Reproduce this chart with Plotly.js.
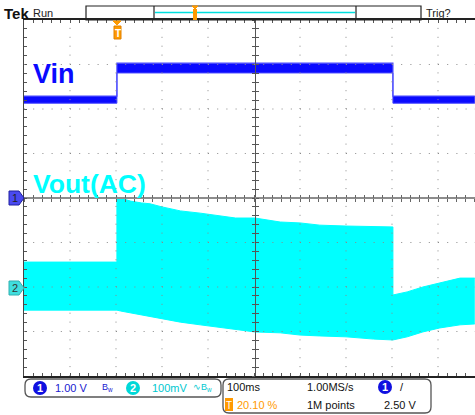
<!DOCTYPE html>
<html><head><meta charset="utf-8">
<script src="https://cdn.plot.ly/plotly-3.0.1.min.js"></script>
<style>html,body{margin:0;padding:0;background:#fff;}#chart{width:475px;height:415px;}</style>
</head><body><div id="chart"></div>
<script>
// ---- data ----
const vinTimeMs  = [0, 202, 202, 802, 802, 980];
const vinUpperV  = [2.29, 2.29, 3.03, 3.03, 2.29, 2.29];
const vinLowerV  = [2.13, 2.13, 2.81, 2.81, 2.13, 2.13];

const voutTimeMs  = [0, 202, 202, 210, 232, 255, 274, 300, 340, 383, 420, 460, 502, 557, 600, 643, 700, 760, 802, 802, 833, 867, 904, 948, 980];
const voutUpperMv = [56, 56, 202, 200, 193, 189, 187, 180, 171, 166, 160, 155, 155, 146, 144, 139, 137, 136, 135, -18, -11, 0, 9, 20, 20];
const voutLowerMv = [-52, -52, -52, -54, -58, -63, -67, -72, -79, -85, -90, -97, -101, -103, -108, -110, -112, -117, -119, -119, -112, -101, -92, -85, -83];

const ch1VoltsPerDiv = 1.0, ch1OffsetDiv = 0;
const ch2MvPerDiv = 100, ch2OffsetDiv = -2;
const seriesLabels = ['Vin', 'Vout(AC)'];
const ch1Scale = '1.00 V', ch2Scale = '100mV';
const timebase = '100ms', sampleRate = '1.00MS/s', recordLen = '1M points';
const trigPos = '20.10 %', trigLevel = '2.50 V', trigTimeMs = 201;

// ---- geometry ----
const W = 475, H = 415, L = 24, R = 475, T = 20, B = 376;
const xMax = (R - L) / 46 * 100;   // 100 ms per 46 px division
const px = x => (x - L) / (R - L);
const py = y => (B - y) / (B - T);

const BLUE = '#0a0aff', CYAN = '#00ffff', ORANGE = '#ff9a00';
const SANS = "'Liberation Sans', Arial, sans-serif";

const ch1 = v => v / ch1VoltsPerDiv + ch1OffsetDiv;
const ch2 = v => v / ch2MvPerDiv + ch2OffsetDiv;

const traces = [
  {x: voutTimeMs, y: voutLowerMv.map(ch2), mode: 'lines', line: {color: CYAN, width: 1}, hoverinfo: 'skip'},
  {x: voutTimeMs, y: voutUpperMv.map(ch2), mode: 'lines', line: {color: CYAN, width: 1}, fill: 'tonexty', fillcolor: CYAN, hoverinfo: 'skip'},
  {x: vinTimeMs, y: vinLowerV.map(ch1), mode: 'lines', line: {color: '#4848ff', width: 1}, hoverinfo: 'skip'},
  {x: vinTimeMs, y: vinUpperV.map(ch1), mode: 'lines', line: {color: '#4848ff', width: 1.2}, fill: 'tonexty', fillcolor: BLUE, hoverinfo: 'skip'},
  {x: [0], y: [null], xaxis: 'x2', yaxis: 'y', mode: 'lines', hoverinfo: 'skip'},
  {x: [0], y: [null], xaxis: 'x3', yaxis: 'y', mode: 'lines', hoverinfo: 'skip'},
  {x: [null], y: [0], xaxis: 'x', yaxis: 'y2', mode: 'lines', hoverinfo: 'skip'},
  {x: [null], y: [0], xaxis: 'x', yaxis: 'y3', mode: 'lines', hoverinfo: 'skip'}
];

const baseX = {range: [0, xMax], showticklabels: false, showgrid: false, zeroline: false, fixedrange: true};
const baseY = {range: [-4, 4], showticklabels: false, showgrid: false, zeroline: false, fixedrange: true};

// grid (dotted, drawn above the traces like the scope does)
const shapes = [];
for (let k = 1; k <= 9; k++) {
  if (k === 5) continue;
  shapes.push({type: 'line', xref: 'x', yref: 'paper', x0: k * 100, x1: k * 100, y0: 0, y1: 1,
    line: {color: '#8a8a8a', width: 1, dash: '1px,7.9px'}, layer: 'above'});
}
for (let k = -3; k <= 3; k++) {
  if (k === 0) continue;
  shapes.push({type: 'line', xref: 'paper', yref: 'y', x0: 0, x1: 1, y0: k, y1: k,
    line: {color: '#8a8a8a', width: 1, dash: '1px,8.2px'}, layer: 'above'});
}
function rr(x0, y0, x1, y1, r) {
  const X = px, Y = py;
  return `M ${X(x0 + r)} ${Y(y0)} L ${X(x1 - r)} ${Y(y0)} Q ${X(x1)} ${Y(y0)} ${X(x1)} ${Y(y0 + r)} ` +
         `L ${X(x1)} ${Y(y1 - r)} Q ${X(x1)} ${Y(y1)} ${X(x1 - r)} ${Y(y1)} L ${X(x0 + r)} ${Y(y1)} ` +
         `Q ${X(x0)} ${Y(y1)} ${X(x0)} ${Y(y1 - r)} L ${X(x0)} ${Y(y0 + r)} Q ${X(x0)} ${Y(y0)} ${X(x0 + r)} ${Y(y0)} Z`;
}
function pline(x0, y0, x1, y1, color, width) {
  return {type: 'line', xref: 'paper', yref: 'paper', x0: px(x0), x1: px(x1), y0: py(y0), y1: py(y1), line: {color, width}};
}
function prect(x0, y0, x1, y1, fill, lc, lw) {
  return {type: 'rect', xref: 'paper', yref: 'paper', x0: px(x0), x1: px(x1), y0: py(y0), y1: py(y1), fillcolor: fill, line: {color: lc || fill, width: lw || 0}};
}
function pcircle(cx, cy, r, fill) {
  return {type: 'circle', xref: 'paper', yref: 'paper', x0: px(cx - r), x1: px(cx + r), y0: py(cy - r), y1: py(cy + r), fillcolor: fill, line: {color: fill, width: 0}};
}
function ppath(pts, fill, lc) {
  const d = pts.map((p, i) => (i ? 'L ' : 'M ') + px(p[0]) + ' ' + py(p[1])).join(' ') + ' Z';
  return {type: 'path', xref: 'paper', yref: 'paper', path: d, fillcolor: fill, line: {color: lc, width: 1}};
}
// record bar at top
shapes.push(prect(86, 6, 421, 20, 'rgba(0,0,0,0)', '#222', 1.2));
shapes.push(pline(154, 6, 154, 20, '#222', 1.2));
shapes.push(pline(356, 6, 356, 20, '#222', 1.2));
shapes.push(pline(155, 12.5, 355, 12.5, '#00dede', 1.5));
shapes.push(prect(193, 9, 197, 20, ORANGE));
shapes.push(ppath([[192, 6], [198, 6], [195, 9]], ORANGE, ORANGE));
// trigger position marker
shapes.push(ppath([[113, 21], [121, 21], [117, 25]], ORANGE, ORANGE));
shapes.push(prect(114, 26, 121, 39, ORANGE, '#e08000', 1));
// channel ground markers
shapes.push(ppath([[9, 191], [19, 191], [24, 198], [19, 205], [9, 205]], '#4a4af0', '#2020a0'));
shapes.push(ppath([[9, 281], [19, 281], [24, 288], [19, 295], [9, 295]], '#40dede', '#30b0b0'));
// bottom readout boxes
shapes.push({type: 'path', xref: 'paper', yref: 'paper', path: rr(25, 379, 221, 397, 6), line: {color: '#555', width: 1.3}});
shapes.push({type: 'path', xref: 'paper', yref: 'paper', path: rr(223, 379, 431, 413, 6), line: {color: '#555', width: 1.3}});
shapes.push(pcircle(40, 388, 7, '#1010e0'));
shapes.push(pcircle(133, 388, 7, '#00d8d8'));
shapes.push(pcircle(385, 387, 7, '#1010e0'));
shapes.push(prect(225, 398, 233, 411, ORANGE));

function ann(text, x, y, opts) {
  return Object.assign({text, xref: 'paper', yref: 'paper', x: px(x), y: py(y), xanchor: 'left', yanchor: 'middle',
    showarrow: false, font: {family: SANS, size: 11, color: '#111'}}, opts || {});
}
const annotations = [
  ann('<b>Tek</b>', 2, 13, {font: {family: SANS, size: 15, color: '#111'}}),
  ann('Run', 31, 13, {font: {family: SANS, size: 11, color: '#222'}}),
  ann('Trig?', 424, 13, {font: {family: SANS, size: 11, color: '#222'}}),
  ann('<b>' + seriesLabels[0] + '</b>', 31, 74, {font: {family: SANS, size: 27, color: BLUE}}),
  ann('<b>' + seriesLabels[1] + '</b>', 31, 184, {font: {family: SANS, size: 26.5, color: CYAN}}),
  ann('<b>T</b>', 117.5, 33, {xanchor: 'center', font: {family: SANS, size: 10, color: '#fff'}}),
  ann('1', 15, 198, {xanchor: 'center', font: {family: SANS, size: 11, color: '#222'}}),
  ann('2', 15, 288, {xanchor: 'center', font: {family: SANS, size: 11, color: '#333'}}),
  ann('<b>1</b>', 40, 388, {xanchor: 'center', font: {family: SANS, size: 11, color: '#fff'}}),
  ann(ch1Scale, 53, 388, {font: {family: SANS, size: 11, color: '#2020d0'}}),
  ann('B<sub>w</sub>', 100, 387, {font: {family: SANS, size: 9, color: '#2020d0'}}),
  ann('<b>2</b>', 133, 388, {xanchor: 'center', font: {family: SANS, size: 11, color: '#fff'}}),
  ann(ch2Scale, 150, 388, {font: {family: SANS, size: 11, color: '#00c8d0'}}),
  ann('∿B<sub>w</sub>', 191, 387, {font: {family: SANS, size: 9, color: '#00c8d0'}}),
  ann(timebase, 225, 387),
  ann(sampleRate, 305, 387),
  ann('<b>1</b>', 385, 387, {xanchor: 'center', font: {family: SANS, size: 11, color: '#fff'}}),
  ann('/', 398, 387),
  ann('T', 229, 405, {xanchor: 'center', font: {family: SANS, size: 10, color: '#fff'}}),
  ann(trigPos, 235, 405, {font: {family: SANS, size: 11, color: ORANGE}}),
  ann(recordLen, 305, 405),
  ann(trigLevel, 382, 405)
];

const layout = {
  width: W, height: H, margin: {l: L, r: W - R, t: T, b: H - B, pad: 0},
  paper_bgcolor: '#fff', plot_bgcolor: '#fff', showlegend: false,
  xaxis: Object.assign({}, baseX, {showline: true, linecolor: '#222', linewidth: 2, mirror: 'ticks',
    ticks: 'inside', ticklen: 3, tickcolor: '#555', dtick: 100, tick0: 0,
    minor: {dtick: 20, tick0: 0, ticks: 'inside', ticklen: 3, tickcolor: '#555'}}),
  xaxis2: Object.assign({}, baseX, {overlaying: 'x', anchor: 'free', position: 0.5, showline: true, linecolor: '#8c8c8c', linewidth: 2,
    ticks: 'outside', ticklen: 3, tickcolor: '#666', dtick: 20, tick0: 0}),
  xaxis3: Object.assign({}, baseX, {overlaying: 'x', anchor: 'free', position: 0.5, showline: false,
    ticks: 'inside', ticklen: 3, tickcolor: '#666', dtick: 20, tick0: 0}),
  yaxis: Object.assign({}, baseY, {showline: true, linecolor: '#444', linewidth: 1.5,
    ticks: 'inside', ticklen: 3, tickcolor: '#555', dtick: 1, tick0: 0,
    minor: {dtick: 0.2, tick0: 0, ticks: 'inside', ticklen: 3, tickcolor: '#555'}}),
  yaxis2: Object.assign({}, baseY, {overlaying: 'y', anchor: 'free', position: px(254.5), showline: true, linecolor: '#555', linewidth: 1,
    ticks: 'outside', ticklen: 3, tickcolor: '#555', dtick: 0.2, tick0: 0}),
  yaxis3: Object.assign({}, baseY, {overlaying: 'y', anchor: 'free', position: px(254.5), showline: false,
    ticks: 'inside', ticklen: 3, tickcolor: '#555', dtick: 0.2, tick0: 0}),
  shapes, annotations
};

Plotly.newPlot('chart', traces, layout, {staticPlot: true, displayModeBar: false});
</script></body></html>
